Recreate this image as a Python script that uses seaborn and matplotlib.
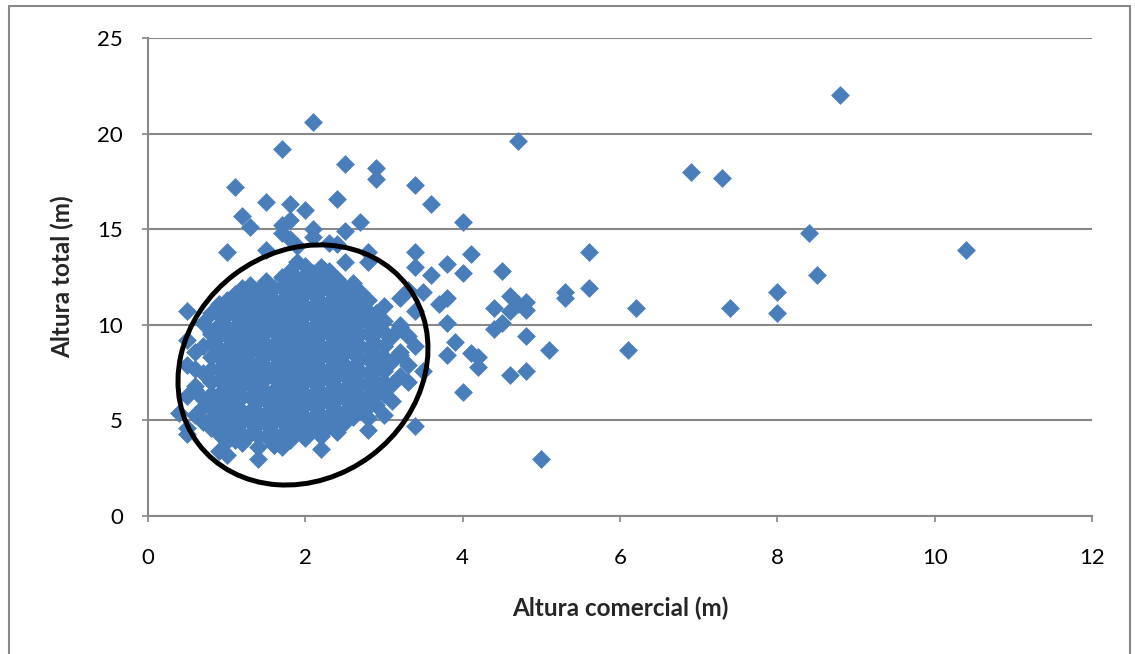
import matplotlib
matplotlib.use("Agg")
import matplotlib.pyplot as plt
from matplotlib.patches import Ellipse
from matplotlib.transforms import Affine2D
from matplotlib.lines import Line2D
import seaborn as sns
import pandas as pd

# Altura comercial (m) vs altura total (m), one diamond per tree.

# Dense core of the stand (x, y) pairs
nucleo = [
    (0.5, 6.3), (0.5, 7.9), (0.5, 9.2),
    (0.6, 5.3), (0.6, 6.8), (0.6, 8.6),
    (0.7, 4.9), (0.7, 6.1), (0.7, 7.5), (0.7, 8.9), (0.7, 10.1),
    (0.8, 4.6), (0.8, 5.7), (0.8, 7.0), (0.8, 8.3), (0.8, 9.6), (0.8, 10.6),
    (0.9, 4.3), (0.9, 5.3), (0.9, 6.4), (0.9, 7.7), (0.9, 8.8), (0.9, 10.0), (0.9, 11.0),
    (1.0, 3.9), (1.0, 5.0), (1.0, 6.0), (1.0, 7.2), (1.0, 8.2), (1.0, 9.4), (1.0, 10.5), (1.0, 11.3),
    (1.1, 4.4), (1.1, 5.6), (1.1, 6.7), (1.1, 7.9), (1.1, 9.0), (1.1, 9.9), (1.1, 11.0), (1.1, 11.6),
    (1.2, 3.8), (1.2, 4.9), (1.2, 6.2), (1.2, 7.4), (1.2, 8.5), (1.2, 9.6), (1.2, 10.6), (1.2, 11.9),
    (1.3, 4.3), (1.3, 5.5), (1.3, 6.9), (1.3, 8.0), (1.3, 9.2), (1.3, 10.2), (1.3, 11.3), (1.3, 12.1),
    (1.4, 3.6), (1.4, 4.8), (1.4, 6.0), (1.4, 7.3), (1.4, 8.7), (1.4, 9.8), (1.4, 10.8), (1.4, 11.8),
    (1.5, 4.2), (1.5, 5.4), (1.5, 6.5), (1.5, 7.8), (1.5, 9.0), (1.5, 10.3), (1.5, 11.4), (1.5, 12.3),
    (1.6, 3.7), (1.6, 4.9), (1.6, 6.0), (1.6, 7.2), (1.6, 8.4), (1.6, 9.6), (1.6, 10.7), (1.6, 11.9),
    (1.7, 4.3), (1.7, 5.5), (1.7, 6.7), (1.7, 7.9), (1.7, 9.1), (1.7, 10.2), (1.7, 11.3), (1.7, 12.5),
    (1.8, 4.0), (1.8, 5.1), (1.8, 6.2), (1.8, 7.4), (1.8, 8.6), (1.8, 9.7), (1.8, 10.8), (1.8, 12.0), (1.8, 12.8),
    (1.9, 4.5), (1.9, 5.7), (1.9, 6.8), (1.9, 8.0), (1.9, 9.2), (1.9, 10.4), (1.9, 11.5), (1.9, 12.4),
    (2.0, 4.1), (2.0, 5.2), (2.0, 6.4), (2.0, 7.5), (2.0, 8.7), (2.0, 9.9), (2.0, 11.0), (2.0, 12.1), (2.0, 13.1),
    (2.1, 4.6), (2.1, 5.8), (2.1, 7.0), (2.1, 8.2), (2.1, 9.3), (2.1, 10.5), (2.1, 11.6), (2.1, 12.7),
    (2.2, 4.2), (2.2, 5.3), (2.2, 6.5), (2.2, 7.7), (2.2, 8.9), (2.2, 10.0), (2.2, 11.2), (2.2, 12.3), (2.2, 13.0),
    (2.3, 4.7), (2.3, 5.9), (2.3, 7.1), (2.3, 8.3), (2.3, 9.5), (2.3, 10.6), (2.3, 11.8), (2.3, 12.8),
    (2.4, 4.4), (2.4, 5.5), (2.4, 6.7), (2.4, 7.8), (2.4, 9.0), (2.4, 10.2), (2.4, 11.3), (2.4, 12.4),
    (2.5, 4.9), (2.5, 6.1), (2.5, 7.3), (2.5, 8.5), (2.5, 9.7), (2.5, 10.8), (2.5, 11.9),
    (2.6, 5.2), (2.6, 6.6), (2.6, 7.8), (2.6, 9.1), (2.6, 10.3), (2.6, 11.5), (2.6, 12.2),
    (2.7, 5.6), (2.7, 6.9), (2.7, 8.2), (2.7, 9.5), (2.7, 10.9), (2.7, 11.7),
    (2.8, 5.1), (2.8, 6.3), (2.8, 7.5), (2.8, 8.8), (2.8, 10.1), (2.8, 11.3),
    (2.9, 5.8), (2.9, 7.0), (2.9, 8.3), (2.9, 9.6), (2.9, 10.6),
    (3.0, 6.4), (3.0, 7.6), (3.0, 8.9), (3.0, 10.2),
    (3.1, 6.9), (3.1, 8.1), (3.1, 9.4),
    (3.2, 7.3), (3.2, 8.6), (3.2, 9.9),
]

# Further trees inside the core
nucleo_b = [
    (0.8, 5.1), (0.8, 6.4), (0.8, 7.7), (0.8, 9.0),
    (0.9, 4.8), (0.9, 5.9), (0.9, 7.1), (0.9, 8.3), (0.9, 9.4), (0.9, 10.5),
    (1.0, 4.5), (1.0, 5.5), (1.0, 6.6), (1.0, 7.7), (1.0, 8.8), (1.0, 9.9), (1.0, 10.9),
    (1.1, 5.0), (1.1, 6.1), (1.1, 7.3), (1.1, 8.4), (1.1, 9.5), (1.1, 10.5),
    (1.2, 4.3), (1.2, 5.5), (1.2, 6.8), (1.2, 8.0), (1.2, 9.1), (1.2, 10.1), (1.2, 11.2),
    (1.3, 4.9), (1.3, 6.2), (1.3, 7.5), (1.3, 8.6), (1.3, 9.7), (1.3, 10.8), (1.3, 11.7),
    (1.4, 4.2), (1.4, 5.4), (1.4, 6.7), (1.4, 8.0), (1.4, 9.3), (1.4, 10.3), (1.4, 11.3),
    (1.5, 4.8), (1.5, 6.0), (1.5, 7.2), (1.5, 8.4), (1.5, 9.6), (1.5, 10.9), (1.5, 11.9),
    (1.6, 4.3), (1.6, 5.5), (1.6, 6.6), (1.6, 7.8), (1.6, 9.0), (1.6, 10.1), (1.6, 11.3),
    (1.7, 4.9), (1.7, 6.1), (1.7, 7.3), (1.7, 8.5), (1.7, 9.6), (1.7, 10.8), (1.7, 11.9),
    (1.8, 4.6), (1.8, 5.7), (1.8, 6.8), (1.8, 8.0), (1.8, 9.1), (1.8, 10.3), (1.8, 11.4),
    (1.9, 5.1), (1.9, 6.3), (1.9, 7.4), (1.9, 8.6), (1.9, 9.8), (1.9, 10.9), (1.9, 12.0),
    (2.0, 4.7), (2.0, 5.8), (2.0, 7.0), (2.0, 8.1), (2.0, 9.3), (2.0, 10.5), (2.0, 11.6), (2.0, 12.6),
    (2.1, 5.2), (2.1, 6.4), (2.1, 7.6), (2.1, 8.8), (2.1, 9.9), (2.1, 11.0), (2.1, 12.2),
    (2.2, 4.8), (2.2, 5.9), (2.2, 7.1), (2.2, 8.3), (2.2, 9.5), (2.2, 10.6), (2.2, 11.8),
    (2.3, 5.3), (2.3, 6.5), (2.3, 7.7), (2.3, 8.9), (2.3, 10.1), (2.3, 11.2), (2.3, 12.3),
    (2.4, 5.0), (2.4, 6.1), (2.4, 7.3), (2.4, 8.4), (2.4, 9.6), (2.4, 10.8), (2.4, 11.9),
    (2.5, 5.5), (2.5, 6.7), (2.5, 7.9), (2.5, 9.1), (2.5, 10.3), (2.5, 11.4),
    (2.6, 5.9), (2.6, 7.2), (2.6, 8.5), (2.6, 9.7), (2.6, 10.9),
    (2.7, 6.2), (2.7, 7.6), (2.7, 8.9), (2.7, 10.2), (2.7, 11.2),
    (2.8, 5.7), (2.8, 6.9), (2.8, 8.2), (2.8, 9.5), (2.8, 10.7),
    (2.9, 6.4), (2.9, 7.7), (2.9, 9.0), (2.9, 10.1),
    (3.0, 7.0), (3.0, 8.3), (3.0, 9.6),
]

# Trees around the core, low commercial height
periferia = [
    (0.5, 10.7), (0.4, 5.4), (0.5, 4.3), (0.5, 4.6), (0.9, 3.4), (1.0, 3.2),
    (1.4, 3.0), (1.6, 3.7), (1.7, 4.1), (1.7, 3.6), (0.6, 7.7), (0.6, 6.6),
    (0.7, 5.7), (0.9, 6.1), (1.1, 4.0), (0.8, 9.5), (0.9, 11.1), (1.0, 11.2),
    (2.2, 3.5), (2.4, 4.6), (2.8, 4.5), (2.8, 6.8), (2.9, 6.5), (3.0, 5.3),
    (3.1, 6.0), (3.0, 7.7), (3.0, 8.0), (3.3, 7.9), (3.3, 7.0), (3.2, 8.4),
    (3.0, 8.9), (3.3, 9.4), (3.2, 10.0), (3.0, 11.0), (3.2, 11.4), (3.3, 11.8),
    (2.3, 12.7), (2.5, 13.3), (2.8, 13.3), (2.8, 13.8), (2.4, 14.2), (2.5, 14.9),
    (2.1, 15.0), (2.1, 14.6), (2.3, 14.3), (1.9, 13.3), (1.9, 14.1), (1.7, 14.8),
    (1.8, 14.5), (1.5, 13.9), (1.0, 13.8), (1.3, 15.1), (1.2, 15.7), (1.7, 15.2),
    (1.8, 15.5), (2.0, 16.0), (1.8, 16.3), (1.5, 16.4), (1.1, 17.2), (2.4, 16.6),
    (2.7, 15.4), (2.5, 18.4), (2.9, 18.2), (2.9, 17.6), (2.1, 20.6), (1.7, 19.2),
]

# Trees with intermediate commercial height
intermedio = [
    (3.4, 17.3), (3.6, 16.3), (3.4, 13.8), (3.4, 13.0), (3.6, 12.6), (3.5, 11.7),
    (3.7, 11.1), (3.4, 10.7), (3.4, 8.9), (3.5, 7.6), (3.4, 4.7),
    (4.0, 15.4), (4.1, 13.7), (4.0, 12.7), (3.8, 13.2), (4.5, 12.8), (4.6, 11.5),
    (4.7, 11.1), (4.8, 11.2), (4.8, 10.8), (4.4, 10.9), (4.6, 10.7), (3.8, 11.4),
    (3.8, 10.1), (4.5, 10.1), (4.4, 9.8), (4.8, 9.4), (3.9, 9.1), (3.8, 8.4),
    (4.1, 8.5), (4.2, 8.3), (4.2, 7.8), (4.6, 7.4), (4.8, 7.6), (4.0, 6.5),
]

# Tall commercial stems
extremo = [
    (8.8, 22.0), (10.4, 13.9), (6.9, 18.0), (7.3, 17.7), (8.4, 14.8), (8.5, 12.6),
    (8.0, 11.7), (8.0, 10.6), (7.4, 10.9), (6.2, 10.9), (6.1, 8.7), (5.6, 13.8),
    (5.6, 11.9), (5.3, 11.7), (5.3, 11.4), (5.1, 8.7), (5.0, 3.0), (4.7, 19.6),
]

x_ticks = [0, 2, 4, 6, 8, 10, 12]
y_ticks = [0, 5, 10, 15, 20, 25]

df = pd.DataFrame(nucleo + nucleo_b + periferia + intermedio + extremo,
                  columns=["Altura comercial (m)", "Altura total (m)"])

sns.set_style("white")
plt.rcParams["font.family"] = ["Lato", "DejaVu Sans"]

W, H = 1135, 654
fig = plt.figure(figsize=(W / 100, H / 100), dpi=100)
ax = fig.add_axes([148 / W, (H - 516) / H, 944 / W, 478 / H])

grid_gray = "#888888"
sns.scatterplot(data=df, x="Altura comercial (m)", y="Altura total (m)",
                marker="D", s=92, color="#4A7EBB", linewidth=0, alpha=1,
                ax=ax, zorder=3)

ax.set_xlim(0, 12)
ax.set_ylim(0, 25)
ax.set_xticks(x_ticks)
ax.set_yticks(y_ticks)
ax.yaxis.grid(True, color=grid_gray, linewidth=1.5)
ax.set_axisbelow(True)
for side in ["top", "right"]:
    ax.spines[side].set_visible(False)
ax.spines["left"].set_color(grid_gray)
ax.spines["left"].set_linewidth(1.5)
ax.spines["bottom"].set_color(grid_gray)
ax.spines["bottom"].set_linewidth(1.5)
ax.tick_params(axis="y", length=4, width=1.2, color=grid_gray, pad=14,
               labelsize=16, labelcolor="black", direction="out", left=True)
ax.tick_params(axis="x", length=4, width=1.2, color=grid_gray, pad=19,
               labelsize=16, labelcolor="black", direction="out", bottom=True)

ax.set_xlabel("Altura comercial (m)", fontsize=17.5, fontweight="bold")
ax.set_ylabel("Altura total (m)", fontsize=17.5, fontweight="bold")
ax.xaxis.set_label_coords(0.5, (516 - 597) / 478)
ax.yaxis.set_label_coords((74 - 148) / 944, 0.5)

# Highlight ring around the dense group, sized in screen pixels
fig.canvas.draw()
px_x = ax.bbox.width / 12
px_y = ax.bbox.height / 25
ring = Ellipse((0, 0), width=262, height=227, angle=36.8, fill=False,
               edgecolor="black", linewidth=3.6, zorder=5)
ring.set_transform(Affine2D().scale(1 / px_x, 1 / px_y).translate(1.97, 7.90) + ax.transData)
ring.set_clip_on(False)
ax.add_patch(ring)

# Chart-area border
fx = lambda p: p / W
fy = lambda p: 1 - p / H
for xs, ys in [([9, 9], [6, H + 5]), ([9, 1130], [6, 6]), ([1130, 1130], [6, H + 5])]:
    fig.add_artist(Line2D([fx(v) for v in xs], [fy(v) for v in ys],
                          transform=fig.transFigure, color=grid_gray, linewidth=1.5))

fig.savefig("out.png", dpi=100)
